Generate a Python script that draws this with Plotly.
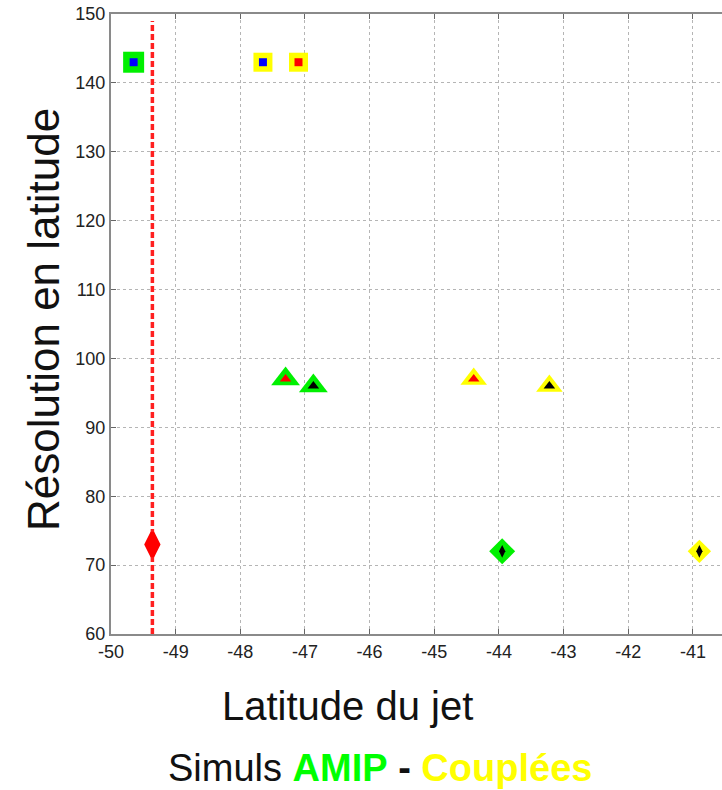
import plotly.graph_objects as go

# ---- data ----
x_ticks = [-50, -49, -48, -47, -46, -45, -44, -43, -42, -41]
x_ticktext = ["-50", "-49", "-48", "-47", "-46", "-45", "-44", "-43", "-42", "-41"]
y_ticks = [60, 70, 80, 90, 100, 110, 120, 130, 140, 150]

# reference line (observed jet latitude)
ref_line_x = [-49.36, -49.36]
ref_line_y = [60, 149]
ref_point_x = [-49.36]
ref_point_y = [73]

# AMIP simulations (green outline)
amip_x = [-49.65, -47.3, -46.87, -43.95]
amip_y = [143, 97, 96, 72]
amip_inner = ["#0000ff", "#ff0000", "#000000", "#000000"]
amip_sym = ["square", "triangle-up", "triangle-up", "diamond"]

# Coupled simulations (yellow outline)
coup_x = [-47.65, -47.1, -44.39, -43.22, -40.9]
coup_y = [143, 143, 97, 96, 72]
coup_inner = ["#0000ff", "#ff0000", "#ff0000", "#000000", "#000000"]
coup_sym = ["square", "square", "triangle-up", "triangle-up", "diamond"]

outer_size = {"square": 19, "triangle-up": 23, "diamond": 18}
inner_size = {"square": 8, "triangle-up": 10, "diamond": 9}
inner_sym = {"square": "square", "triangle-up": "triangle-up", "diamond": "diamond-tall"}

fig = go.Figure()

fig.add_trace(go.Scatter(x=ref_line_x, y=ref_line_y, mode="lines",
                         line=dict(color="#ff2020", width=3.5, dash="6px,3px"),
                         showlegend=False, hoverinfo="skip"))
fig.add_trace(go.Scatter(x=ref_point_x, y=ref_point_y, mode="markers",
                         marker=dict(symbol="diamond-tall", size=17, color="#ff0000",
                                     opacity=1, line=dict(color="#ff0000", width=4)),
                         showlegend=False))

def add_group(xs, ys, inner, syms, outer_color, outer_extra=0):
    fig.add_trace(go.Scatter(
        x=xs, y=ys, mode="markers",
        marker=dict(symbol=syms, size=[outer_size[s] + outer_extra for s in syms],
                    color=outer_color, opacity=1, line=dict(width=0)),
        showlegend=False))
    fig.add_trace(go.Scatter(
        x=xs, y=ys, mode="markers",
        marker=dict(symbol=[inner_sym[s] for s in syms], size=[inner_size[s] for s in syms],
                    color=inner, opacity=1, line=dict(width=0)),
        showlegend=False))

add_group(amip_x, amip_y, amip_inner, amip_sym, "#00f000", 2)
add_group(coup_x, coup_y, coup_inner, coup_sym, "#ffff00", 0)

axis_common = dict(
    showline=True, linecolor="#8a8a8a", linewidth=2,
    ticks="inside", ticklen=5, tickcolor="#666", tickwidth=1,
    showgrid=True, gridcolor="#b5b5b5", griddash="dot", gridwidth=1,
    zeroline=False,
    tickfont=dict(family="Liberation Sans, Arial", size=18, color="#222"),
)

fig.update_xaxes(range=[-50, -40.55], tickvals=x_ticks, ticktext=x_ticktext,
                 mirror="ticks", **axis_common)
fig.update_yaxes(range=[60, 150], tickvals=y_ticks, mirror=False, **axis_common)

fig.update_layout(
    width=722, height=790,
    margin=dict(l=111, r=0, t=14, b=156),
    plot_bgcolor="white", paper_bgcolor="white",
    font=dict(family="Liberation Sans, Arial"),
    annotations=[
        dict(text="Résolution en latitude", xref="paper", yref="paper",
             x=(43 - 111) / 611, y=(634 - 320) / 620, textangle=-90,
             showarrow=False, xanchor="center", yanchor="middle",
             font=dict(size=44, color="#111")),
        dict(text="Latitude du jet", xref="paper", yref="paper",
             x=(347 - 111) / 611, y=-(706 - 634) / 620,
             showarrow=False, xanchor="center", yanchor="middle",
             font=dict(size=40, color="#111")),
        dict(text="Simuls <b><span style='color:#00ff00'>AMIP</span></b> <b>-</b> "
                  "<b><span style='color:#ffff00'>Couplées</span></b>",
             xref="paper", yref="paper",
             x=(380 - 111) / 611, y=-(768 - 634) / 620,
             showarrow=False, xanchor="center", yanchor="middle",
             font=dict(size=38, color="#111")),
    ],
)

fig.write_html("out.html", config={"displayModeBar": False},
               post_script="document.body.style.margin='0';document.body.style.overflow='hidden';")
